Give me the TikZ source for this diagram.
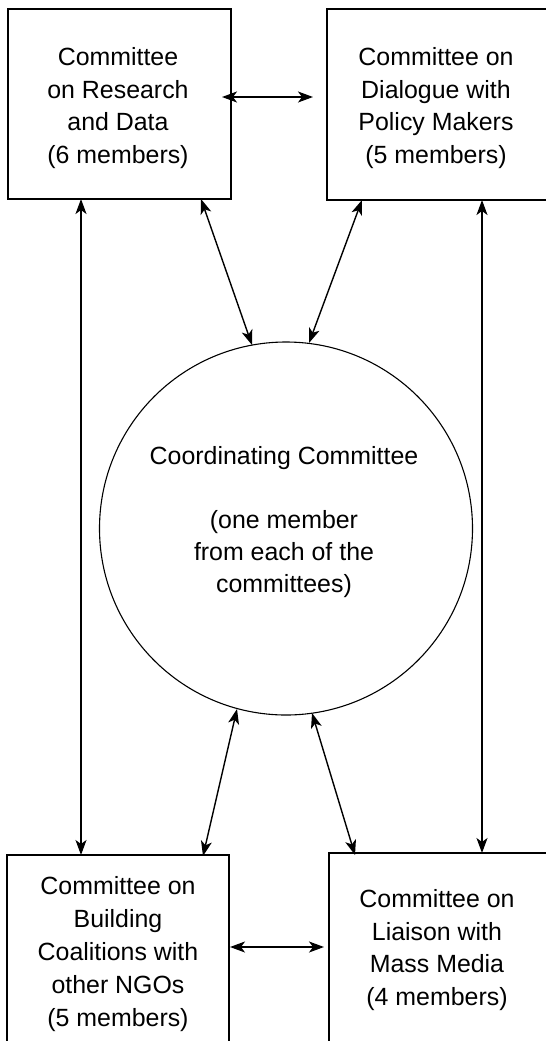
\documentclass[tikz,border=0pt]{standalone}
\usepackage{fontspec}
\setmainfont{Liberation Sans}
\usetikzlibrary{arrows.meta}
\begin{document}
\begin{tikzpicture}[x=1bp,y=-1bp,
  box/.style={draw, line width=1.8bp, rectangle, inner sep=0pt},
  lbl/.style={align=center, inner sep=0pt, font=\fontsize{25}{33}\selectfont},
  clbl/.style={align=center, inner sep=0pt, font=\fontsize{25}{32}\selectfont},
  tip/.tip={Stealth[length=15bp,width=11bp,inset=4bp]},
  link/.style={line width=1.4bp, tip-tip}
]
\useasboundingbox (0,0) rectangle (546,1041);
\clip (0,0) rectangle (546,1041);
% boxes
\node[box, minimum width=223bp, minimum height=190bp] (tl) at (119.5,104) {};
\node[box, minimum width=273bp, minimum height=191bp] (tr) at (463.5,104.5) {};
\node[box, minimum width=222bp, minimum height=245bp] (bl) at (118,977.5) {};
\node[box, minimum width=271bp, minimum height=247bp] (br) at (464.5,976.5) {};
\node[draw, circle, line width=1.1bp, minimum size=373bp, inner sep=0pt] (cc) at (286,528.5) {};
% texts
\node[lbl] (tltext) at (118,108) {Committee\\on Research\\and Data\\(6 members)};
\node[lbl] (trtext) at (436,108) {Committee on\\Dialogue with\\Policy Makers\\(5 members)};
\node[lbl] (bltext) at (118,954) {Committee on\\Building\\Coalitions with\\other NGOs\\(5 members)};
\node[lbl] (brtext) at (437,950) {Committee on\\Liaison with\\Mass Media\\(4 members)};
\node[clbl] (cctext) at (284,522) {Coordinating Committee\\[32pt](one member\\from each of the\\committees)};
% connector ends
\coordinate (h1a) at (222,97);
\coordinate (h1b) at (313,97);
\coordinate (h2a) at (230,947);
\coordinate (h2b) at (324,947);
\coordinate (v1a) at (81,199);
\coordinate (v1b) at (81,855);
\coordinate (v2a) at (482,200);
\coordinate (v2b) at (482,853);
\coordinate (d1a) at (201,199);
\coordinate (d1b) at (252,345);
\coordinate (d2a) at (362,200);
\coordinate (d2b) at (309,343);
\coordinate (d3a) at (237,709);
\coordinate (d3b) at (203,856);
\coordinate (d4a) at (312,713);
\coordinate (d4b) at (355,855);
% connectors
\draw[link] (h1a) -- (h1b);
\draw[link] (h2a) -- (h2b);
\draw[link] (v1a) -- (v1b);
\draw[link] (v2a) -- (v2b);
\draw[link] (d1a) -- (d1b);
\draw[link] (d2a) -- (d2b);
\draw[link] (d3a) -- (d3b);
\draw[link] (d4a) -- (d4b);
\end{tikzpicture}
\end{document}
